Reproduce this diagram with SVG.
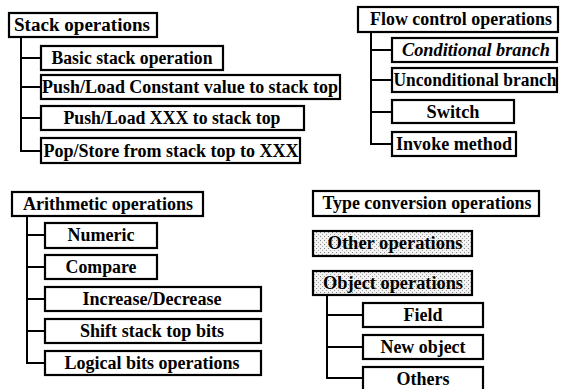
<svg xmlns="http://www.w3.org/2000/svg" width="568" height="389" viewBox="0 0 568 389">
<defs>
<pattern id="dots" width="4" height="4" patternUnits="userSpaceOnUse">
<rect width="4" height="4" fill="#f2f2f2"/>
<rect x="0" y="0" width="1" height="1" fill="#888"/>
<rect x="2" y="2" width="1" height="1" fill="#aaa"/>
</pattern>
</defs>
<style>
rect.b{fill:#fff;stroke:#000;stroke-width:2.2}
rect.s{fill:url(#dots);stroke:#000;stroke-width:2.2}
text{font-family:"Liberation Serif","Times New Roman",serif;font-weight:bold;font-size:18px;fill:#000;text-anchor:middle}
.c path{fill:none;stroke:#000;stroke-width:2}
</style>
<g class="c" id="connectors">
<path d="M21 37V151H41M21 58H41M21 87H41M21 118H41"/>
<path d="M371 32V144H392M371 50H392M371 80H392M371 112H392"/>
<path d="M27 216V363H45M27 235H45M27 267H45M27 299H45M27 331H45"/>
<path d="M327 295V378H363M327 315H363M327 347H363"/>
</g>
<g id="stack"><rect class="b" x="9" y="13" width="148" height="24"/><text x="82" y="31" textLength="136" lengthAdjust="spacingAndGlyphs">Stack operations</text></g>
<g id="basic"><rect class="b" x="41" y="46" width="182" height="24"/><text x="132" y="64" textLength="161" lengthAdjust="spacingAndGlyphs">Basic stack operation</text></g>
<g id="pushconst"><rect class="b" x="41" y="75" width="299" height="24"/><text x="190" y="93" textLength="296" lengthAdjust="spacingAndGlyphs">Push/Load Constant value to stack top</text></g>
<g id="pushxxx"><rect class="b" x="41" y="106" width="263" height="24"/><text x="172" y="124" textLength="217" lengthAdjust="spacingAndGlyphs">Push/Load XXX to stack top</text></g>
<g id="pop"><rect class="b" x="41" y="138" width="259" height="25"/><text x="171" y="157" textLength="255" lengthAdjust="spacingAndGlyphs">Pop/Store from stack top to XXX</text></g>
<g id="flow"><rect class="b" x="358" y="7" width="200" height="25"/><text x="461" y="25" textLength="182" lengthAdjust="spacingAndGlyphs">Flow control operations</text></g>
<g id="cond"><rect class="b" x="392" y="38" width="165" height="24"/><text x="476" y="56" textLength="148" lengthAdjust="spacingAndGlyphs" font-style="italic">Conditional branch</text></g>
<g id="uncond"><rect class="b" x="392" y="68" width="165" height="24"/><text x="475" y="86" textLength="163" lengthAdjust="spacingAndGlyphs">Unconditional branch</text></g>
<g id="switch"><rect class="b" x="392" y="100" width="122" height="23"/><text x="453" y="118" textLength="53" lengthAdjust="spacingAndGlyphs">Switch</text></g>
<g id="invoke"><rect class="b" x="392" y="132" width="124" height="24"/><text x="454" y="150" textLength="116" lengthAdjust="spacingAndGlyphs">Invoke method</text></g>
<g id="arith"><rect class="b" x="12" y="192" width="191" height="24"/><text x="108" y="210" textLength="170" lengthAdjust="spacingAndGlyphs">Arithmetic operations</text></g>
<g id="numeric"><rect class="b" x="45" y="223" width="112" height="25"/><text x="101" y="241" textLength="67" lengthAdjust="spacingAndGlyphs">Numeric</text></g>
<g id="compare"><rect class="b" x="45" y="255" width="112" height="24"/><text x="101" y="273" textLength="71" lengthAdjust="spacingAndGlyphs">Compare</text></g>
<g id="incdec"><rect class="b" x="45" y="287" width="216" height="24"/><text x="152" y="305" textLength="139" lengthAdjust="spacingAndGlyphs">Increase/Decrease</text></g>
<g id="shift"><rect class="b" x="45" y="319" width="216" height="24"/><text x="152" y="337" textLength="144" lengthAdjust="spacingAndGlyphs">Shift stack top bits</text></g>
<g id="logical"><rect class="b" x="45" y="351" width="216" height="24"/><text x="152" y="369" textLength="175" lengthAdjust="spacingAndGlyphs">Logical bits operations</text></g>
<g id="typeconv"><rect class="b" x="313" y="191" width="226" height="25"/><text x="427" y="209" textLength="209" lengthAdjust="spacingAndGlyphs">Type conversion operations</text></g>
<g id="other"><rect class="s" x="313" y="231" width="159" height="25"/><text x="395" y="249" textLength="135" lengthAdjust="spacingAndGlyphs">Other operations</text></g>
<g id="object"><rect class="s" x="313" y="271" width="159" height="24"/><text x="393" y="289" textLength="140" lengthAdjust="spacingAndGlyphs">Object operations</text></g>
<g id="field"><rect class="b" x="363" y="303" width="120" height="24"/><text x="423" y="321" textLength="39" lengthAdjust="spacingAndGlyphs">Field</text></g>
<g id="newobj"><rect class="b" x="363" y="335" width="120" height="24"/><text x="423" y="353" textLength="85" lengthAdjust="spacingAndGlyphs">New object</text></g>
<g id="others"><rect class="b" x="363" y="367" width="120" height="24"/><text x="423" y="385" textLength="53" lengthAdjust="spacingAndGlyphs">Others</text></g>
</svg>
